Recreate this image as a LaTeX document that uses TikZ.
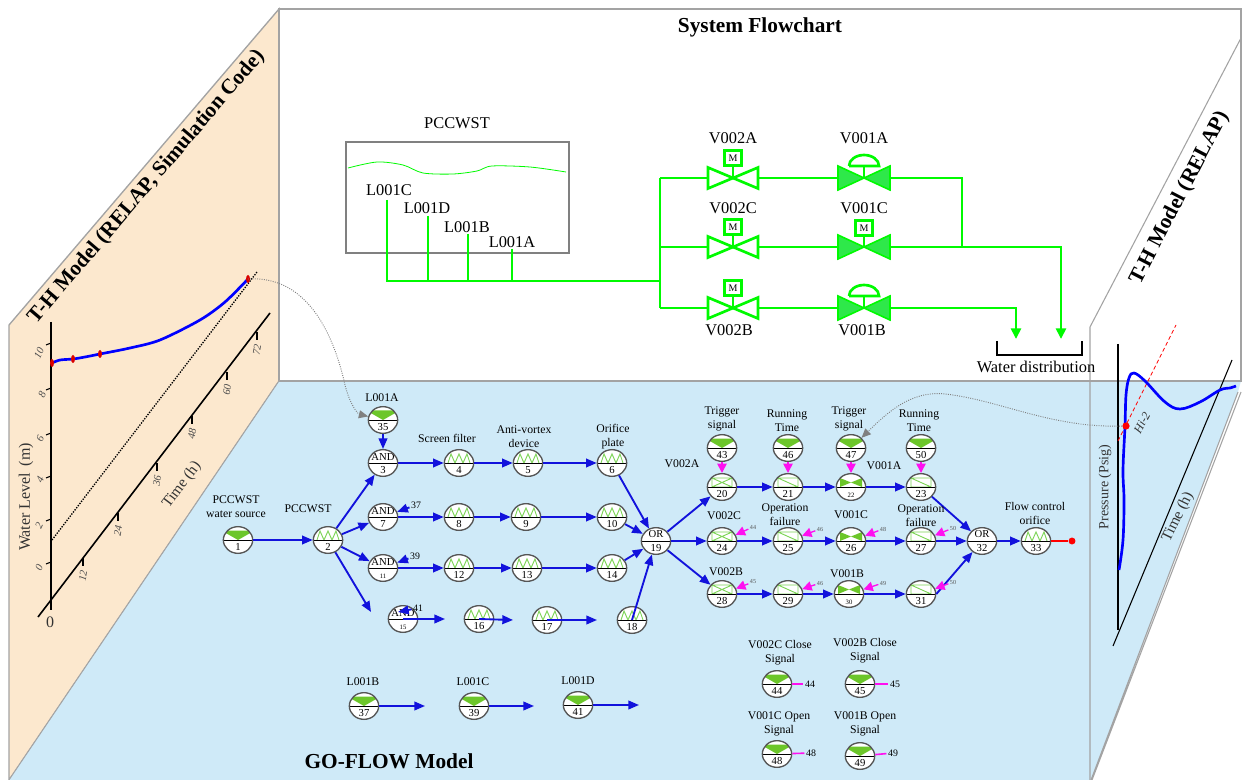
\documentclass[tikz,border=0pt]{standalone}
\usepackage{fontspec}
\setmainfont{Liberation Serif}
\usepackage{tikz}
\usetikzlibrary{arrows.meta,shapes.geometric}
\definecolor{gfsand}{HTML}{FCE8CE}
\definecolor{gfsky}{HTML}{CFEAF8}
\definecolor{gfedge}{HTML}{A3A3A3}
\definecolor{gfring}{HTML}{555555}
\definecolor{gfleaf}{HTML}{6CC62A}
\definecolor{gfzig}{HTML}{7CD455}
\definecolor{gfblue}{HTML}{1212DC}
\definecolor{gfpink}{HTML}{FF10F0}
\definecolor{gfpipe}{HTML}{00FA00}
\definecolor{gfvalve}{HTML}{2EE84A}
\newcommand{\gfnum}[1]{\raisebox{-8pt}[0pt][0pt]{\makebox[0pt]{#1}}}
\newcommand{\gfnode}[3][gfzigzag]{\node[#1] (n#2) at (#3) {\gfnum{#2}};}
\tikzset{
  gfbase/.style={ellipse, draw=gfring, line width=1pt, fill=white, minimum width=22pt, minimum height=20pt, inner sep=0pt, font=\fontsize{8}{9}\selectfont},
  gfsymbol/.style={path picture={
    \begin{scope}[shift={(path picture bounding box.center)}]
      #1
      \draw[black, line width=0.7pt] (-16,0) -- (16,0);
    \end{scope}}},
  gfsource/.style={gfbase, gfsymbol={\fill[gfleaf] (-14,-9.5) -- (14,-9.5) -- (14,-8) -- (0,0) -- (-14,-8) -- cycle;}},
  gfzigzag/.style={gfbase, gfsymbol={\draw[gfzig, line width=0.7pt] (-11,0) -- (-8,-9) -- (-4,0) -- (0,-9) -- (4,0) -- (8,-9) -- (11,0);}},
  gfand/.style={gfbase, gfsymbol={\node[font=\fontsize{8}{9}\selectfont, inner sep=0pt] at (0,-6.5) {AND};}},
  gfor/.style={gfbase, gfsymbol={\node[font=\fontsize{8}{9}\selectfont, inner sep=0pt] at (0,-6.5) {OR};}},
  gfcross/.style={gfbase, gfsymbol={\draw[gfzig, line width=0.7pt] (-10,-9) rectangle (10,0) (-10,-9) -- (10,0) (-10,0) -- (10,-9);}},
  gfslash/.style={gfbase, gfsymbol={\draw[gfzig, line width=0.7pt] (-10,-9) rectangle (10,0) (-10,-9) -- (10,0);}},
  gfbow/.style={gfbase, gfsymbol={\fill[gfleaf] (-11,-9) -- (0,-4.5) -- (11,-9) -- (11,0) -- (0,-4.5) -- (-11,0) -- cycle;}},
  gfsmall/.style={font=\fontsize{5}{6}\selectfont},
  flow/.style={-{Triangle[length=8pt,width=6.5pt]}, gfblue, line width=1.4pt},
  sigflow/.style={-{Triangle[length=7pt,width=7pt]}, gfpink, line width=1.2pt},
  greyflow/.style={-{Triangle[length=7pt,width=6pt]}, gray, densely dotted, line width=0.7pt},
  sigtag/.style={font=\fontsize{4.6}{5}\selectfont, inner sep=1pt, text=gfring},
  numtag/.style={font=\fontsize{7.4}{9}\selectfont, inner sep=1pt},
  gftext/.style={font=\fontsize{8.8}{10.5}\selectfont, align=center, inner sep=0pt},
  sketchtext/.style={font=\fontsize{12.3}{14}\selectfont, inner sep=0pt},
  headtext/.style={font=\fontsize{16}{18}\selectfont\bfseries, inner sep=0pt},
  axistext/.style={font=\fontsize{10.5}{12}\selectfont, inner sep=0pt, text=black!80},
  ticktext/.style={font=\fontsize{8}{9}\selectfont\itshape, inner sep=0pt, text=black!70},
  pipe/.style={gfpipe, line width=2pt},
  pipeend/.style={pipe, -{Triangle[length=8pt,width=7.5pt]}},
  mvalve/.pic={
    \draw[gfpipe, line width=2pt] (0,0) -- (0,-14);
    \draw[gfpipe, line width=2pt, fill=white] (-25,-10.5) -- (0,0) -- (-25,10.5) -- cycle;
    \draw[gfpipe, line width=2pt, fill=white] (25,-10.5) -- (0,0) -- (25,10.5) -- cycle;
    \node[draw=gfpipe, line width=1.8pt, fill=white, minimum width=13pt, minimum height=11pt, inner sep=0pt, font=\fontsize{7.5}{8}\selectfont] at (0,-20) {M};
  },
  mvalvefill/.pic={
    \draw[gfpipe, line width=2pt] (0,0) -- (0,-14);
    \draw[gfpipe, line width=1.2pt, fill=gfvalve] (-26,-12) -- (0,0) -- (-26,12) -- cycle;
    \draw[gfpipe, line width=1.2pt, fill=gfvalve] (26,-12) -- (0,0) -- (26,12) -- cycle;
    \node[draw=gfpipe, line width=1.8pt, fill=white, minimum width=13pt, minimum height=11pt, inner sep=0pt, font=\fontsize{7.5}{8}\selectfont] at (0,-19) {M};
  },
  domevalve/.pic={
    \draw[gfpipe, line width=2pt] (0,0) -- (0,-12);
    \draw[gfpipe, line width=2pt] (-15,-12) -- (15,-12) arc[start angle=0, end angle=-180, x radius=15, y radius=11];
    \draw[gfpipe, line width=1.2pt, fill=gfvalve] (-26,-12) -- (0,0) -- (-26,12) -- cycle;
    \draw[gfpipe, line width=1.2pt, fill=gfvalve] (26,-12) -- (0,0) -- (26,12) -- cycle;
  }
}
\begin{document}
\begin{tikzpicture}[x=0.75pt, y=-0.75pt]
  \useasboundingbox (0,0) rectangle (1242,780);

  \filldraw[fill=gfsand, draw=gfedge, line width=1pt] (9,780) -- (9,325) -- (279,9) -- (279,381) -- cycle;
  \filldraw[fill=white, draw=gfedge, line width=1pt] (279,9) rectangle (1241,381);
  \fill[gfsky] (279,381) -- (1241,381) -- (1238,392) -- (1091,780) -- (9,780) -- cycle;
  \draw[gfedge, line width=0.6pt] (279,381) -- (9,780);
  \draw[gfedge, line width=1.2pt] (279,381) -- (1241,381);
  \draw[gfedge, line width=0.8pt] (1241,38) -- (1090,327) -- (1090,780);
  \draw[gfedge, line width=0.8pt] (1241,392) -- (1092,780) (1238,392) -- (1091,780);

  \node[headtext] at (760,27) {System Flowchart};
  \node[headtext] at (389,761) {GO-FLOW Model};
  \node[headtext, rotate=49.5] at (147,187) {T-H Model (RELAP, Simulation Code)};
  \node[headtext, rotate=62.7] at (1180,198) {T-H Model (RELAP)};

  % water level chart
  \draw[black, line width=1.2pt] (51,322) -- (51,610);
  \draw[black, line width=1.2pt] (38,617) -- (270,313);
  \draw[black, densely dotted, line width=1pt] (52,540) -- (257,272);
  \foreach \py/\lab/\ly/\lx in {343/10/353/39, 388/8/395/42, 433/6/439/40, 476/4/480/40, 519/2/526/39, 562/0/568/39}{
    \draw[black, line width=0.8pt] (51,\py) -- (46,\py+2);
    \node[ticktext, rotate=65] at (\lx,\ly) {\lab};
  }
  \foreach \px/\py/\lab in {83/558/12, 118/513/24, 157/463/36, 192/416/48, 227/372/60, 257/332/72}{
    \draw[black, line width=0.8pt] (\px,\py) -- (\px,\py+8);
    \node[ticktext, rotate=80] at (\px,\py+18) {\lab};
  }
  \node[axistext, font=\fontsize{12}{14}\selectfont] at (50,622) {0};
  \node[axistext, rotate=90, font=\fontsize{12}{14}\selectfont] at (26,497) {Water Level\, (m)};
  \node[axistext, rotate=53, font=\fontsize{11.5}{14}\selectfont] at (182,485) {Time (h)};
  \draw[blue, line width=2pt] plot[smooth] coordinates {(52,363) (60,360) (73,359) (85,357) (100,354) (130,348) (160,340) (200,320) (225,302) (248,279)};
  \foreach \px/\py in {52/363, 73/359, 100/354, 248/279}{
    \fill[red!85!black] (\px,\py) ellipse[x radius=2, y radius=4];
  }

  % system flowchart
  \draw[gray, line width=1.5pt] (346,142) rectangle (569,253);
  \draw[gfpipe, line width=0.6pt] plot[smooth] coordinates {(348,168) (377,162) (403,165) (423,173) (453,174) (477,171) (492,166) (530,167) (566,172)};
  \node[sketchtext] (tank) at (457,123) {PCCWST};
  \node[sketchtext] at (389,190) {L001C};
  \node[sketchtext] at (427,208) {L001D};
  \node[sketchtext] at (467,227) {L001B};
  \node[sketchtext] at (512,242) {L001A};
  \coordinate (lc) at (387,200);
  \coordinate (ld) at (428,216);
  \coordinate (lb) at (468,234);
  \coordinate (la) at (512,249);
  \coordinate (hub) at (660,281);
  \coordinate (va) at (733,178);
  \coordinate (vc) at (733,247);
  \coordinate (vb) at (733,308);
  \coordinate (wa) at (864,178);
  \coordinate (wc) at (864,247);
  \coordinate (wb) at (864,308);
  \coordinate (merge) at (962,247);
  \coordinate (outc) at (1061,339);
  \coordinate (outb) at (1016,339);
  \draw[pipe] (lc) |- (hub);
  \draw[pipe] (ld) -- (ld |- hub);
  \draw[pipe] (lb) -- (lb |- hub);
  \draw[pipe] (la) -- (la |- hub);
  \draw[pipe] (hub |- va) -- (hub |- vb);
  \draw[pipe] (hub |- va) -- (va) -- (wa) -| (merge);
  \draw[pipe] (hub |- vc) -- (vc) -- (wc);
  \draw[pipe] (hub |- vb) -- (vb) -- (wb);
  \draw[pipeend] (wc) -| (outc);
  \draw[pipeend] (wb) -| (outb);
  \pic at (va) {mvalve};
  \pic at (vc) {mvalve};
  \pic at (vb) {mvalve};
  \pic at (wa) {domevalve};
  \pic at (wc) {mvalvefill};
  \pic at (wb) {domevalve};
  \node[sketchtext] at (733,138) {V002A};
  \node[sketchtext] at (864,138) {V001A};
  \node[sketchtext] at (733,208) {V002C};
  \node[sketchtext] at (864,208) {V001C};
  \node[sketchtext] at (729,330) {V002B};
  \node[sketchtext] at (862,330) {V001B};
  \draw[black, line width=1.6pt] (997,341) -- (997,355) -- (1082,355) -- (1082,341);
  \node[sketchtext] at (1036,367) {Water distribution};

  % go-flow chart
  \foreach \num/\pos in {1/{238,540}, 35/{383,420}, 43/{722,448}, 46/{788,448}, 47/{851,448}, 50/{921,448}, 37/{364,706}, 39/{474,706}, 41/{578,705}, 44/{777,684}, 45/{860,684}, 48/{777,754}, 49/{860,756}}{
    \gfnode[gfsource]{\num}{\pos}
  }
  \foreach \num/\pos in {2/{328,540}, 4/{459,463}, 5/{528,463}, 6/{612,463}, 8/{459,517}, 9/{526,517}, 10/{612,517}, 12/{459,568}, 13/{527,568}, 14/{612,568}, 16/{479,619}, 17/{547,620}, 18/{632,620}, 33/{1036,541}}{
    \gfnode{\num}{\pos}
  }
  \gfnode[gfand]{3}{383,463}
  \gfnode[gfand]{7}{383,517}
  \gfnode[gfand, gfsmall]{11}{383,568}
  \gfnode[gfand, gfsmall]{15}{403,619}
  \gfnode[gfor]{19}{656,541}
  \gfnode[gfor]{32}{982,541}
  \gfnode[gfcross]{20}{722,487}
  \gfnode[gfcross]{24}{722,541}
  \gfnode[gfcross]{28}{722,594}
  \gfnode[gfslash]{21}{788,487}
  \gfnode[gfslash]{25}{788,541}
  \gfnode[gfslash]{29}{788,594}
  \gfnode[gfslash]{23}{921,487}
  \gfnode[gfslash]{27}{921,541}
  \gfnode[gfslash]{31}{921,594}
  \gfnode[gfbow, gfsmall]{22}{851,487}
  \gfnode[gfbow]{26}{851,541}
  \gfnode[gfbow, gfsmall]{30}{849,594}

  \coordinate (end15) at (371,612);
  \coordinate (out15) at (445,619);
  \coordinate (out16) at (513,620);
  \coordinate (out17) at (597,620);
  \coordinate (out37) at (425,706);
  \coordinate (out39) at (534,706);
  \coordinate (out41) at (639,705);
  \coordinate (in41) at (398,612);
  \node[circle, fill=red, minimum size=5.2pt, inner sep=0pt] (stop) at (1072,541) {};

  \draw[flow] (n1) -- (n2);
  \draw[flow] (n35) -- (n3);
  \draw[flow] (n2) -- (n3);
  \draw[flow] (n2) -- (n7);
  \draw[flow] (n2) -- (n11);
  \draw[flow] (n2) -- (end15);
  \foreach \a/\b in {3/4, 4/5, 5/6, 6/19, 7/8, 8/9, 9/10, 10/19, 11/12, 12/13, 13/14, 14/19, 19/20, 19/24, 19/28, 20/21, 21/22, 22/23, 23/32, 24/25, 25/26, 26/27, 27/32, 28/29, 29/30, 30/31, 32/33}{
    \draw[flow] (n\a) -- (n\b);
  }
  \draw[flow] (n31.east) -- (n32);
  \draw[flow] (n15.center) -- (out15);
  \draw[flow] (n16.center) -- (out16);
  \draw[flow] (n17.center) -- (out17);
  \draw[flow] (n18.center) -- (n19);
  \draw[flow] (n37) -- (out37);
  \draw[flow] (n39) -- (out39);
  \draw[flow] (n41) -- (out41);
  \draw[red, line width=1.3pt] (n33) -- (stop);

  \draw[sigflow] (n43) -- (n20);
  \draw[sigflow] (n46) -- (n21);
  \draw[sigflow] (n47) -- (n22);
  \draw[sigflow] (n50) -- (n23);

  \node[numtag] (t37) at (416,505) {37};
  \node[numtag] (t39) at (415,556) {39};
  \node[numtag] (t41) at (418,608) {41};
  \draw[flow] (t37) -- (n7);
  \draw[flow] (t39) -- (n11);
  \draw[flow] (t41) -- (in41);

  \foreach \lab/\px/\py/\target/\code in {44/753/527/24/a, 45/753/582/28/b, 46/820/529/25/c, 48/883/529/26/d, 50/953/528/27/e, 46/820/583/29/f, 49/883/583/30/g, 50/953/582/31/h}{
    \node[sigtag] (s\code) at (\px,\py) {\lab};
    \draw[sigflow, line width=1pt] (s\code) -- (n\target);
  }
  \node[numtag] (t44) at (810,684) {44};
  \node[numtag] (t45) at (895,684) {45};
  \node[numtag] (t48) at (811,753) {48};
  \node[numtag] (t49) at (893,753) {49};
  \draw[gfpink, line width=1.2pt] (n44) -- (t44);
  \draw[gfpink, line width=1.2pt] (n45) -- (t45);
  \draw[gfpink, line width=1.2pt] (n48) -- (t48);
  \draw[gfpink, line width=1.2pt] (n49) -- (t49);

  \node[gftext] at (236,507) {PCCWST\\water source};
  \node[gftext] at (308,509) {PCCWST};
  \node[gftext] at (382,398) {L001A};
  \node[gftext] at (447,438) {Screen filter};
  \node[gftext] at (524,437) {Anti-vortex\\device};
  \node[gftext] at (613,437) {Orifice\\plate};
  \node[gftext] at (682,464) {V002A};
  \node[gftext] at (722,419) {Trigger\\signal};
  \node[gftext] at (787,421) {Running\\Time};
  \node[gftext] at (849,419) {Trigger\\signal};
  \node[gftext] at (919,421) {Running\\Time};
  \node[gftext] at (884,466) {V001A};
  \node[gftext] at (724,516) {V002C};
  \node[gftext] at (785,515) {Operation\\failure};
  \node[gftext] at (851,515) {V001C};
  \node[gftext] at (921,516) {Operation\\failure};
  \node[gftext] at (1035,513) {Flow control\\orifice};
  \node[gftext] at (726,572) {V002B};
  \node[gftext] at (847,574) {V001B};
  \node[gftext] at (363,682) {L001B};
  \node[gftext] at (473,682) {L001C};
  \node[gftext] at (578,681) {L001D};
  \node[gftext] at (780,653) {V002C Close\\Signal};
  \node[gftext] at (865,651) {V002B Close\\Signal};
  \node[gftext] at (779,724) {V001C Open\\Signal};
  \node[gftext] at (865,724) {V001B Open\\Signal};

  % pressure chart
  \draw[black, line width=0.8pt] (1118,344) -- (1118,630);
  \draw[black, line width=0.8pt] (1232,360) -- (1113,646);
  \draw[red, densely dashed, line width=0.6pt] (1118,441) -- (1176,325);
  \draw[blue, line width=2pt] plot[smooth, tension=0.6] coordinates {(1119,570) (1123,540) (1124,500) (1123,470) (1125,426) (1126,395) (1129,378) (1134,373) (1145,381) (1165,402) (1180,409) (1200,402) (1220,390) (1230,388) (1236,386)};
  \node[circle, fill=red, minimum size=5.4pt, inner sep=0pt] (pdot) at (1126,426) {};
  \node[axistext, font=\fontsize{9}{10}\selectfont\itshape, rotate=62] at (1142,423) {Hi-2};
  \node[axistext, rotate=90, font=\fontsize{10.5}{14}\selectfont] at (1105,487) {Pressure (Psig)};
  \node[axistext, rotate=64, font=\fontsize{11.5}{14}\selectfont] at (1178,517) {Time (h)};

  % links between models
  \coordinate (lift) at (248,279);
  \draw[greyflow] (lift) .. controls (310,275) and (335,340) .. (345,385) .. controls (350,405) and (358,414) .. (n35);
  \draw[greyflow] (pdot) .. controls (1050,428) and (1000,400) .. (945,394) .. controls (910,390) and (885,415) .. (n47);
\end{tikzpicture}
\end{document}
